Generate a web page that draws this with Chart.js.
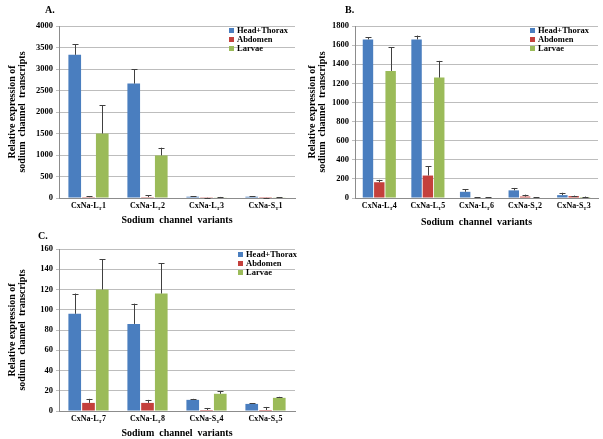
<!DOCTYPE html>
<html lang="en">
<head>
  <meta charset="UTF-8">
  <title>Sodium channel variants</title>
  <script src="https://cdn.jsdelivr.net/npm/chart.js"></script>
  <style>
    body {
      margin: 0;
      background: #fff;
      font-family: "Liberation Serif", serif;
    }
    #wrap {
      position: relative;
      width: 603px;
      height: 439px;
    }
    .panel {
      position: absolute;
    }
    .tag {
      position: absolute;
      font-weight: bold;
      font-size: 10px;
    }
    .legend {
      position: absolute;
      font-weight: bold;
      font-size: 8.5px;
      line-height: 9px;
    }
    .legend span {
      display: inline-block;
      width: 5px;
      height: 5px;
      margin-right: 3px;
    }
  </style>
</head>
<body>
  <div id="wrap">
    <div class="panel" style="left:0;top:0;width:300px;height:226px"><canvas id="chartA"></canvas></div>
    <div class="panel" style="left:300px;top:0;width:303px;height:228px"><canvas id="chartB"></canvas></div>
    <div class="panel" style="left:0;top:228px;width:300px;height:211px"><canvas id="chartC"></canvas></div>
    <div class="tag" style="left:45px;top:4px">A.</div>
    <div class="tag" style="left:345px;top:4px">B.</div>
    <div class="tag" style="left:38px;top:230px">C.</div>
    <div class="legend" style="left:229px;top:26px" id="legA"></div>
    <div class="legend" style="left:530px;top:26px" id="legB"></div>
    <div class="legend" style="left:238px;top:250px" id="legC"></div>
  </div>
  <script>
    const seriesNames = ["Head+Thorax", "Abdomen", "Larvae"];
    const seriesColors = ["#4a7ebf", "#c4403c", "#9bbb59"];

    // A.
    const catsA = ["CxNa-L_T1", "CxNa-L_T2", "CxNa-L_T3", "CxNa-S_T1"];
    const headA = [3330, 2660, 30, 30];
    const abdA = [20, 20, 5, 3];
    const larA = [1500, 990, 15, 8];
    const headSdA = [250, 340, 10, 10];
    const abdSdA = [20, 40, 5, 3];
    const larSdA = [660, 180, 10, 5];

    // B.
    const catsB = ["CxNa-L_T4", "CxNa-L_T5", "CxNa-L_T6", "CxNa-S_T2", "CxNa-S_T3"];
    const headB = [1660, 1660, 65, 80, 30];
    const abdB = [165, 235, 5, 15, 20];
    const larB = [1330, 1260, 5, 5, 10];
    const headSdB = [20, 40, 25, 25, 25];
    const abdSdB = [25, 95, 3, 20, 5];
    const larSdB = [250, 175, 3, 3, 5];

    // C.
    const catsC = ["CxNa-L_T7", "CxNa-L_T8", "CxNa-S_T4", "CxNa-S_T5"];
    const headC = [96, 86, 11, 7];
    const abdC = [8, 8, 1, 1];
    const larC = [120, 116, 17, 13];
    const headSdC = [20, 20, 1, 0.5];
    const abdSdC = [4, 3, 2, 3];
    const larSdC = [30, 30, 2.5, 1];

    const serif = "'Liberation Serif', 'Times New Roman', serif";

    // error bars (upper only, with cap)
    const errorBars = {
      id: "errorBars",
      afterDatasetsDraw(chart) {
        const ctx = chart.ctx;
        const y = chart.scales.y;
        ctx.save();
        ctx.strokeStyle = "#404040";
        ctx.lineWidth = 1;
        chart.data.datasets.forEach((ds, d) => {
          const meta = chart.getDatasetMeta(d);
          meta.data.forEach((bar, i) => {
            const top = y.getPixelForValue(ds.data[i] + ds.sd[i]);
            const x = Math.round(bar.x) + 0.5;
            ctx.beginPath();
            ctx.moveTo(x, bar.y);
            ctx.lineTo(x, top);
            ctx.moveTo(x - 3, Math.round(top) + 0.5);
            ctx.lineTo(x + 3, Math.round(top) + 0.5);
            ctx.stroke();
          });
        });
        ctx.restore();
      }
    };

    // category labels with subscript
    const subLabels = {
      id: "subLabels",
      afterDraw(chart) {
        const ctx = chart.ctx;
        const xs = chart.scales.x;
        ctx.save();
        ctx.fillStyle = "#000";
        ctx.textBaseline = "alphabetic";
        chart.data.labels.forEach((lab, i) => {
          const parts = lab.split("_");
          const main = parts[0];
          const sub = parts[1].charAt(0);
          const tail = parts[1].slice(1);
          ctx.font = "bold 8px " + serif;
          const w1 = ctx.measureText(main).width;
          const w3 = ctx.measureText(tail).width;
          ctx.font = "bold 5px " + serif;
          const w2 = ctx.measureText(sub).width;
          let x = xs.getPixelForTick(i) - (w1 + w2 + w3) / 2;
          const base = xs.top + 10;
          ctx.font = "bold 8px " + serif;
          ctx.fillText(main, x, base);
          x += w1;
          ctx.font = "bold 5px " + serif;
          ctx.fillText(sub, x, base + 1.5);
          x += w2;
          ctx.font = "bold 8px " + serif;
          ctx.fillText(tail, x, base);
        });
        ctx.restore();
      }
    };

    function makeChart(id, cats, series, sds, yMax, yStep, yWidth, pad) {
      const ctx = document.getElementById(id).getContext("2d");
      return new Chart(ctx, {
        type: "bar",
        data: {
          labels: cats,
          datasets: series.map((vals, k) => ({
            label: seriesNames[k],
            data: vals,
            sd: sds[k],
            backgroundColor: seriesColors[k],
            borderWidth: 0,
            barPercentage: 0.92,
            categoryPercentage: 0.7,
          })),
        },
        options: {
          responsive: true,
          maintainAspectRatio: false,
          animation: false,
          layout: { padding: pad },
          plugins: {
            legend: { display: false },
            tooltip: { enabled: false },
          },
          scales: {
            x: {
              grid: { display: false, drawTicks: false },
              border: { color: "#8c8c8c" },
              ticks: { display: false },
              title: {
                display: true,
                text: "Sodium  channel  variants",
                color: "#000",
                font: { family: serif, size: 10, weight: "bold" },
                padding: 0,
              },
              afterFit(scale) { scale.height = pad.xh; },
            },
            y: {
              min: 0,
              max: yMax,
              ticks: {
                stepSize: yStep,
                color: "#000",
                padding: 3,
                font: { family: serif, size: 8.5, weight: "bold" },
                callback: (v) => String(v),
              },
              grid: { color: "#bdbdbd", tickLength: 3 },
              border: { color: "#8c8c8c" },
              title: {
                display: true,
                text: ["Relative expression of", "sodium  channel  transcripts"],
                color: "#000",
                font: { family: serif, size: 10, weight: "bold", lineHeight: 1.0 },
                padding: { top: 7, bottom: 0 },
              },
              afterFit(scale) { scale.width = yWidth; },
            },
          },
        },
        plugins: [errorBars, subLabels],
      });
    }

    makeChart("chartA", catsA, [headA, abdA, larA], [headSdA, abdSdA, larSdA],
      4000, 500, 59, { top: 26, right: 5, left: 0, bottom: 0, xh: 28 });
    makeChart("chartB", catsB, [headB, abdB, larB], [headSdB, abdSdB, larSdB],
      1800, 200, 55, { top: 26, right: 5, left: 0, bottom: 0, xh: 30 });
    makeChart("chartC", catsC, [headC, abdC, larC], [headSdC, abdSdC, larSdC],
      160, 20, 59, { top: 21, right: 5, left: 0, bottom: 0, xh: 28 });

    ["legA", "legB", "legC"].forEach((id) => {
      document.getElementById(id).innerHTML = seriesNames
        .map((n, k) => `<div><span style="background:${seriesColors[k]}"></span>${n}</div>`)
        .join("");
    });
  </script>
</body>
</html>
